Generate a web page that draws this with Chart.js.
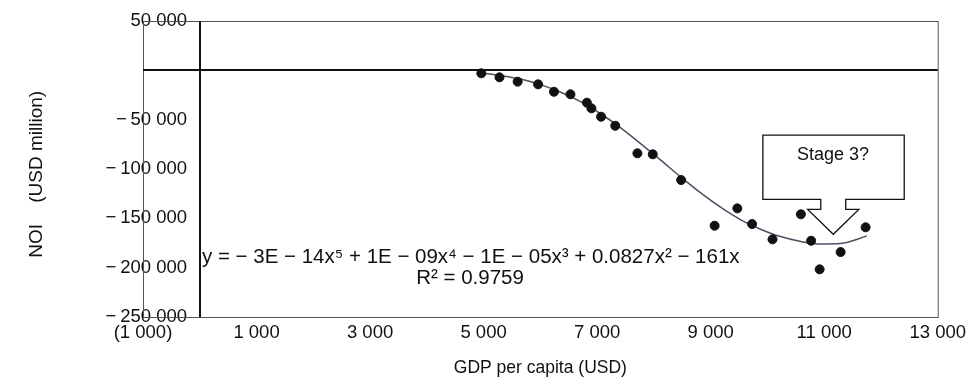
<!DOCTYPE html>
<html>
<head>
<meta charset="utf-8">
<script src="https://cdn.jsdelivr.net/npm/chart.js@4.4.0/dist/chart.umd.min.js"></script>
<style>
  html, body { margin: 0; padding: 0; background: #fff; }
  #grafico { display: block; }
</style>
</head>
<body>
<canvas id="grafico" width="971" height="384"></canvas>
<script>
// ------------------- DATI -------------------
// punti osservati: PIL pro capite (USD) e NOI (USD milioni)
var gdpPerCapita = [4960, 5280, 5600, 5960, 6240, 6530, 6820, 6900, 7070, 7320, 7710,
                    7980, 8480, 9070, 9470, 9730, 10090, 10590, 10770, 10920, 11290, 11730];
var noi = [-3000, -7100, -11500, -14200, -21700, -24300, -32800, -38500, -47000, -56200, -84100,
           -85100, -111200, -157500, -139900, -155800, -171300, -145900, -172700, -201700, -184200, -159100];

// linea di tendenza (polinomiale)
var trendX = [4955, 5300, 5650, 6000, 6350, 6700, 7060, 7410, 7760, 8120,
              8470, 8820, 9180, 9530, 9880, 10230, 10590, 10940, 11290, 11750];
var trendY = [-2700, -5300, -8800, -14500, -22000, -31500, -44000, -58000, -74000, -91000,
              -108000, -124000, -139000, -151500, -161000, -168500, -173500, -176000, -175500, -168000];

var equationText = 'y = \u2212 3E \u2212 14x\u2075 + 1E \u2212 09x\u2074 \u2212 1E \u2212 05x\u00b3 + 0.0827x\u00b2 \u2212 161x';
var r2Text = 'R\u00b2 = 0.9759';
var calloutText = 'Stage 3?';

// ------------------- FINE DATI -------------------

var FONT = "'Liberation Sans', Arial, sans-serif";
var TICK_SIZE = 18.5;

function formatNumber(v) {
    return Math.abs(v).toFixed(0).replace(/\B(?=(\d{3})+(?!\d))/g, ' ');
}
function yLabel(v) {
    if (v === 0) return '';
    return v < 0 ? '\u2212\u2009' + formatNumber(v) : formatNumber(v);
}

// larghezza dell'etichetta più larga, per allineare a destra le etichette dentro il grafico
var misura = document.createElement('canvas').getContext('2d');
misura.font = TICK_SIZE + 'px ' + FONT;
var widestY = misura.measureText(yLabel(-250000)).width;

var puntiScatter = [];
for (var i = 0; i < gdpPerCapita.length; i++) {
    puntiScatter.push({x: gdpPerCapita[i], y: noi[i]});
}
var puntiTrend = [];
for (var j = 0; j < trendX.length; j++) {
    puntiTrend.push({x: trendX[j], y: trendY[j]});
}

// disegna cornice, assi dello zero, equazione e fumetto
var decorazioni = {
    id: 'decorazioni',
    beforeDatasetsDraw: function (chart) {
        var ctx = chart.ctx;
        var a = chart.chartArea;
        var xs = chart.scales.x, ys = chart.scales.y;
        ctx.save();
        ctx.strokeStyle = '#555';
        ctx.lineWidth = 1;
        ctx.strokeRect(a.left + 0.5, a.top + 0.5, a.right - a.left, a.bottom - a.top);
        ctx.strokeStyle = '#111';
        ctx.lineWidth = 2;
        var x0 = Math.round(xs.getPixelForValue(0));
        var y0 = Math.round(ys.getPixelForValue(0));
        ctx.beginPath();
        ctx.moveTo(x0, a.top); ctx.lineTo(x0, a.bottom);
        ctx.moveTo(a.left, y0); ctx.lineTo(a.right, y0);
        ctx.stroke();

        ctx.fillStyle = '#111';
        ctx.font = '20.5px ' + FONT;
        ctx.textBaseline = 'middle';
        ctx.textAlign = 'left';
        ctx.fillText(equationText, x0 + 2, 257);
        ctx.textAlign = 'center';
        ctx.fillText(r2Text, 470, 278);
        ctx.restore();
    },
    afterDatasetsDraw: function (chart) {
        var ctx = chart.ctx;
        var xs = chart.scales.x, ys = chart.scales.y;
        function px(v) { return xs.getPixelForValue(v); }
        function py(v) { return ys.getPixelForValue(v); }
        var L = px(9920), R = px(12410), T = py(-65600), B = py(-130700), NB = py(-140900);
        var nL = px(10940), nR = px(11380), wL = px(10710), wR = px(11610);
        var tx = px(11160), ty = py(-166200);
        ctx.save();
        ctx.beginPath();
        ctx.moveTo(L, T); ctx.lineTo(R, T); ctx.lineTo(R, B); ctx.lineTo(nR, B);
        ctx.lineTo(nR, NB); ctx.lineTo(wR, NB); ctx.lineTo(tx, ty); ctx.lineTo(wL, NB);
        ctx.lineTo(nL, NB); ctx.lineTo(nL, B); ctx.lineTo(L, B); ctx.closePath();
        ctx.fillStyle = '#fff';
        ctx.fill();
        ctx.strokeStyle = '#111';
        ctx.lineWidth = 1.3;
        ctx.stroke();
        ctx.fillStyle = '#111';
        ctx.font = '18px ' + FONT;
        ctx.textAlign = 'center';
        ctx.textBaseline = 'middle';
        ctx.fillText(calloutText, px(11155), py(-86000));
        ctx.restore();
    }
};

var ctx = document.getElementById('grafico');
var chart = new Chart(ctx, {
    type: 'scatter',
    data: {
        datasets: [{
            label: 'NOI',
            data: puntiScatter,
            backgroundColor: '#111',
            borderColor: '#111',
            pointRadius: 4.5,
            pointHoverRadius: 4.5,
            order: 1
        }, {
            type: 'line',
            label: 'Trend',
            data: puntiTrend,
            borderColor: '#4a5262',
            borderWidth: 1.5,
            pointRadius: 0,
            cubicInterpolationMode: 'monotone',
            fill: false,
            order: 2
        }]
    },
    options: {
        responsive: false,
        animation: false,
        devicePixelRatio: 1,
        layout: { padding: { top: 21, left: 0, right: 0, bottom: 0 } },
        plugins: {
            legend: { display: false },
            tooltip: { enabled: false }
        },
        scales: {
            x: {
                type: 'linear',
                min: -1000,
                max: 13000,
                grid: { display: false, drawTicks: false },
                border: { display: false },
                ticks: {
                    stepSize: 2000,
                    padding: 5,
                    color: '#111',
                    font: { family: FONT, size: TICK_SIZE },
                    callback: function (v) {
                        return v < 0 ? '(' + formatNumber(v) + ')' : formatNumber(v);
                    }
                },
                title: {
                    display: true,
                    text: 'GDP per capita (USD)',
                    color: '#111',
                    font: { family: FONT, size: 17.5 },
                    padding: { top: 0, bottom: 5 }
                },
                afterFit: function (scale) { scale.height = 67; }
            },
            y: {
                min: -250000,
                max: 50000,
                grid: { display: false, drawTicks: false },
                border: { display: false },
                ticks: {
                    stepSize: 50000,
                    mirror: true,
                    crossAlign: 'far',
                    padding: 44 - widestY,
                    color: '#111',
                    font: { family: FONT, size: TICK_SIZE },
                    callback: yLabel
                },
                title: {
                    display: true,
                    text: 'NOI\u00a0\u00a0\u00a0\u00a0(USD million)\u00a0\u00a0',
                    color: '#111',
                    font: { family: FONT, size: 19 },
                    padding: { top: 25, bottom: 0 }
                },
                afterFit: function (scale) { scale.width = 143; }
            }
        }
    },
    plugins: [decorazioni]
});
</script>
</body>
</html>
